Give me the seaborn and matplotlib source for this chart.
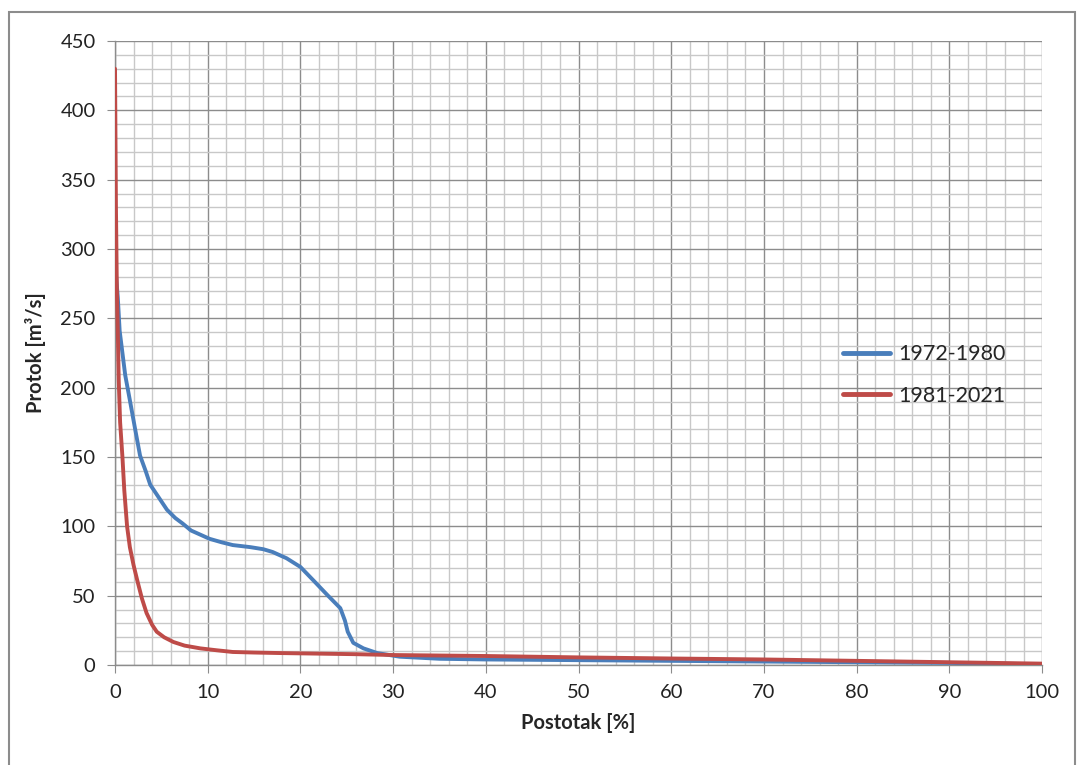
import pandas as pd
import numpy as np
import matplotlib
matplotlib.use("Agg")
import matplotlib.pyplot as plt
import seaborn as sns
from matplotlib.ticker import MultipleLocator
from matplotlib.patches import Rectangle

# krivulja trajanja protoka - ocitano sa slike
pct_7280 = [0, 0.3, 0.5, 1.1, 1.6, 2.2, 2.7, 3.3, 3.8, 4.3, 5.0, 5.6, 6.5, 7.3, 8.2,
            9.2, 10.2, 11.5, 12.7, 14.6, 16.0, 17.0, 18.5, 20.0, 21.4, 22.9, 24.3,
            24.8, 25.1, 25.7, 26.8, 28.3, 30.7, 35, 40, 50, 60, 70, 80, 90, 100]
q_7280 = [290, 265, 241, 209, 191, 169, 151, 140, 130, 125, 118, 112, 106, 102, 97,
          94, 91, 88.5, 86.5, 85, 83.5, 81.5, 77, 70.7, 61, 50.5, 41,
          32, 24, 16, 12, 8.6, 6, 4.5, 4, 3.5, 3, 2.5, 2, 1.5, 0.5]

pct_8121 = [0, 0.1, 0.2, 0.3, 0.4, 0.55, 0.8, 1.0, 1.3, 1.6, 2.0, 2.4, 2.9, 3.4,
            4.0, 4.5, 5.3, 6.3, 7.5, 9.2, 11.0, 12.7, 15.0, 18.0, 22.0, 26.0,
            30, 40, 50, 60, 70, 80, 90, 100]
q_8121 = [430, 330, 270, 241, 205, 175, 150, 126, 100, 85, 72, 61, 48, 37.5,
          29, 24, 20, 16.6, 14, 12, 10.6, 9.4, 9.0, 8.6, 8.2, 7.8,
          7.2, 6.5, 5.5, 4.7, 4.0, 3.0, 2.0, 1.0]

series_names = ["1972-1980", "1981-2021"]
series_colors = ["#4a7ebb", "#be4b48"]

df = pd.concat([
    pd.DataFrame({"Postotak": pct_7280, "Protok": q_7280, "Razdoblje": series_names[0]}),
    pd.DataFrame({"Postotak": pct_8121, "Protok": q_8121, "Razdoblje": series_names[1]}),
])

sns.set_style("white")
plt.rcParams["font.family"] = ["Lato", "DejaVu Sans"]
fs = 14.5

fig = plt.figure(figsize=(10.78, 7.65), dpi=100)
ax = fig.add_axes([0.1067, 0.1307, 0.86, 0.8157])

sns.lineplot(data=df, x="Postotak", y="Protok", hue="Razdoblje",
             palette=dict(zip(series_names, series_colors)),
             linewidth=2.8, sort=False, estimator=None, ax=ax, zorder=3)

ax.set_xlim(0, 100)
ax.set_ylim(0, 450)
ax.xaxis.set_major_locator(MultipleLocator(10))
ax.xaxis.set_minor_locator(MultipleLocator(2))
ax.yaxis.set_major_locator(MultipleLocator(50))
ax.yaxis.set_minor_locator(MultipleLocator(10))
ax.grid(which="major", color="#8c8c8c", linewidth=1.0, zorder=0)
ax.grid(which="minor", color="#c8c8c8", linewidth=1.0, zorder=0)
ax.set_axisbelow(True)
ax.tick_params(which="major", direction="out", length=6, color="#8c8c8c",
               labelsize=fs, pad=8, left=True, bottom=True, labelcolor="#222222")
ax.tick_params(which="minor", length=0)
for s in ax.spines.values():
    s.set_color("#8c8c8c")
    s.set_linewidth(1.0)
ax.spines["top"].set_visible(False)
ax.spines["right"].set_visible(False)

ax.set_xlabel("Postotak [%]", fontsize=fs, fontweight="bold", labelpad=8)
ax.set_ylabel("Protok [m³/s]", fontsize=fs, fontweight="bold", labelpad=10)

leg = ax.legend(loc="center left", bbox_to_anchor=(0.785, 0.465), frameon=False,
                fontsize=15.5, handlelength=2.2, handletextpad=0.4,
                labelspacing=1.0, borderpad=0, borderaxespad=0, title=None)
for line in leg.get_lines():
    line.set_linewidth(3.5)

fig.patches.append(Rectangle((0.0085, -0.01), 0.989, 0.9945, transform=fig.transFigure,
                             fill=False, edgecolor="#8c8c8c", linewidth=1.5))

fig.savefig("out.png", dpi=100)
